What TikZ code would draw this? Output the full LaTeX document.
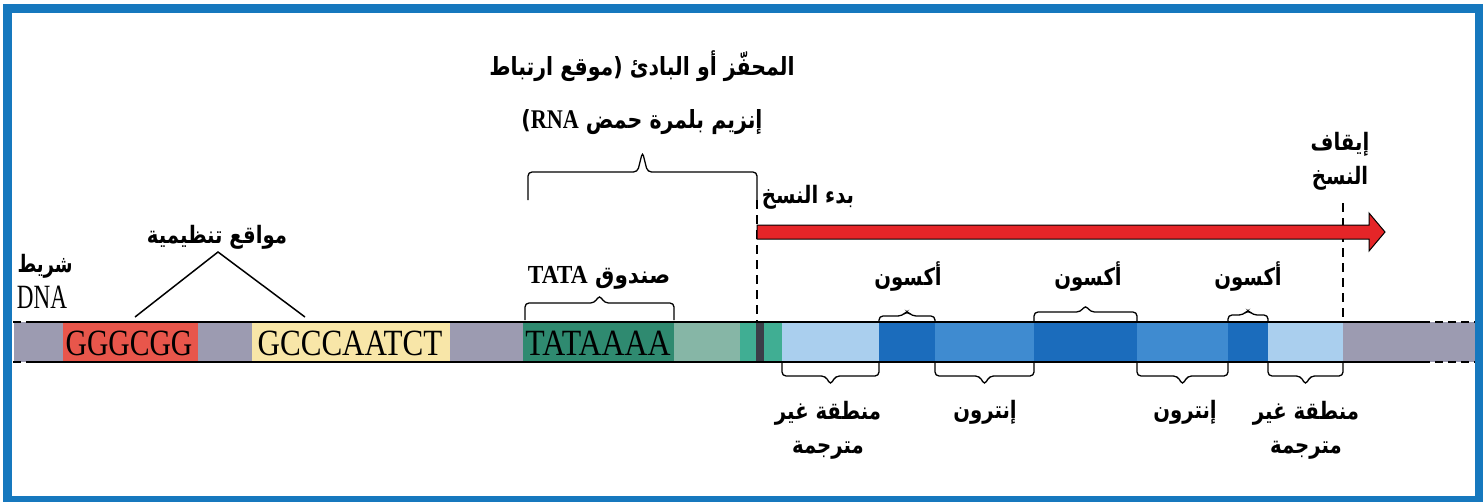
\documentclass[tikz,border=0pt]{standalone}
\usepackage{fontspec}
\setmainfont{Liberation Serif}
\newfontfamily\arabicfont[Script=Arabic]{DejaVu Sans}
\TeXXeTstate=1
\definecolor{framec}{HTML}{1678BE}
\definecolor{dnagray}{HTML}{9C9BB1}
\definecolor{gcred}{HTML}{E8564B}
\definecolor{caatyel}{HTML}{F8E6A8}
\definecolor{tatagreen}{HTML}{2F8A70}
\definecolor{palegreen}{HTML}{86B6A6}
\definecolor{tealc}{HTML}{40AE93}
\definecolor{barc}{HTML}{3A3E48}
\definecolor{utrblue}{HTML}{AACFEE}
\definecolor{exonblue}{HTML}{1B6CBC}
\definecolor{intronblue}{HTML}{3F8BD0}
\definecolor{arrowred}{HTML}{E52528}
\newcommand{\bracepath}[5]{%
  \draw[brc] (#1,#3) -- (#1,#4) -- ({(#1+#2)/2-5},#4) -- ({(#1+#2)/2},#5) -- ({(#1+#2)/2+5},#4) -- (#2,#4) -- (#2,#3);}
\newcommand{\arl}[1]{\scalebox{0.82}[1]{\beginR #1\endR}}
\begin{document}
\begin{tikzpicture}[x=1pt,y=-1pt,
  lab/.style={font=\arabicfont\bfseries\fontsize{24}{34}\selectfont, inner sep=0pt, align=center},
  title/.style={font=\arabicfont\bfseries\fontsize{25}{53}\selectfont, inner sep=0pt, align=center},
  seq/.style={font=\fontsize{37}{37}\selectfont, inner sep=0pt},
  brc/.style={draw=black, line width=1.3pt, rounded corners=4pt},
  cut/.style={draw=black, line width=1.4pt, dash pattern=on 9pt off 6pt},
  strand/.style={draw=black, line width=1.6pt},
  strandend/.style={draw=black, line width=1.6pt, dash pattern=on 8pt off 5pt},
  conn/.style={draw=black, line width=1.5pt}]
\useasboundingbox (0,0) rectangle (1483,501);
\fill[white] (0,0) rectangle (1483,501);
% DNA strip
\fill[dnagray] (14,322) rectangle (1478,362);
\fill[gcred] (63,322) rectangle (198,362);
\fill[caatyel] (252,322) rectangle (450,362);
\fill[tatagreen] (523,322) rectangle (674,362);
\fill[palegreen] (674,322) rectangle (740,362);
\fill[tealc] (740,322) rectangle (782,362);
\fill[barc] (756,322) rectangle (764,362);
\fill[utrblue] (782,322) rectangle (879,362);
\fill[exonblue] (879,322) rectangle (935,362);
\fill[intronblue] (935,322) rectangle (1034,362);
\fill[exonblue] (1034,322) rectangle (1137,362);
\fill[intronblue] (1137,322) rectangle (1228,362);
\fill[exonblue] (1228,322) rectangle (1268,362);
\fill[utrblue] (1268,322) rectangle (1343,362);
\draw[strand] (27,322) -- (1422,322);
\draw[strand] (27,362) -- (1422,362);
\draw[strandend] (13,322) -- (27,322);
\draw[strandend] (13,362) -- (27,362);
\draw[strandend] (1422,322) -- (1478,322);
\draw[strandend] (1422,362) -- (1478,362);
% sequences
\node[seq] (gc) at (129,343) {\scalebox{0.8}[1]{GGGCGG}};
\node[seq] (caat) at (350,343) {\scalebox{0.84}[1]{GCCCAATCT}};
\node[seq] (tata) at (598,343) {\scalebox{0.86}[1]{TATAAAA}};
% coordinates
\coordinate (tss) at (757,200);
\coordinate (tssb) at (757,322);
\coordinate (stop) at (1343,203);
\coordinate (stopb) at (1343,322);
\draw[cut] (tss) -- (tssb);
\draw[cut] (stop) -- (stopb);
% transcription arrow
\filldraw[fill=arrowred, draw=black, line width=1pt] (757,225) -- (1369,225) -- (1369,213) -- (1385,232) -- (1369,251) -- (1369,239) -- (757,239) -- cycle;
% labels
\node[title] (prom) at (642,93) {\arl{المحفّز أو البادئ (موقع ارتباط}\\\arl{إنزيم بلمرة حمض \beginL{\rmfamily\bfseries\fontsize{27}{27}\selectfont RNA}\endL)}};
\node[lab] (start) at (808,197) {\arl{بدء النسخ}};
\node[lab] (stoplab) at (1340,161) {\arl{إيقاف}\\\arl{النسخ}};
\node[lab] (reg) at (217,237) {\arl{مواقع تنظيمية}};
\node[lab] (strandlab) at (45,266) {\scalebox{0.75}[1]{\beginR شريط\endR}};
\node[font=\fontsize{34}{34}\selectfont, inner sep=0pt] (dnalab) at (42,297) {\scalebox{0.68}[1]{DNA}};
\node[lab] (tatalab) at (599,278) {\scalebox{0.9}[1]{\beginR صندوق \beginL{\rmfamily\fontsize{26}{26}\selectfont TATA}\endL\endR}};
\node[lab] (ex1) at (908,277) {\arl{أكسون}};
\node[lab] (ex2) at (1088,277) {\arl{أكسون}};
\node[lab] (ex3) at (1248,277) {\arl{أكسون}};
\node[lab] (in1) at (985,412) {\arl{إنترون}};
\node[lab] (in2) at (1185,412) {\arl{إنترون}};
\node[lab] (utr1) at (828,430) {\arl{منطقة غير}\\\arl{مترجمة}};
\node[lab] (utr2) at (1306,430) {\arl{منطقة غير}\\\arl{مترجمة}};
% regulatory connectors
\coordinate (regapex) at (218,252);
\coordinate (gctop) at (135,317);
\coordinate (caattop) at (305,317);
\draw[conn] (gctop) -- (regapex) -- (caattop);
% braces above
\bracepath{528}{757}{200}{172}{152}
\bracepath{525}{674}{320}{303}{295}
\bracepath{879}{935}{322}{316}{311}
\bracepath{1034}{1137}{322}{312}{305}
\bracepath{1228}{1268}{322}{315}{310}
% braces below
\bracepath{782}{879}{362}{376}{385}
\bracepath{935}{1034}{362}{376}{385}
\bracepath{1137}{1228}{362}{376}{385}
\bracepath{1268}{1343}{362}{376}{385}
% frame
\draw[framec, line width=9pt] (7.5,8.5) rectangle (1479,500);
\end{tikzpicture}
\end{document}
